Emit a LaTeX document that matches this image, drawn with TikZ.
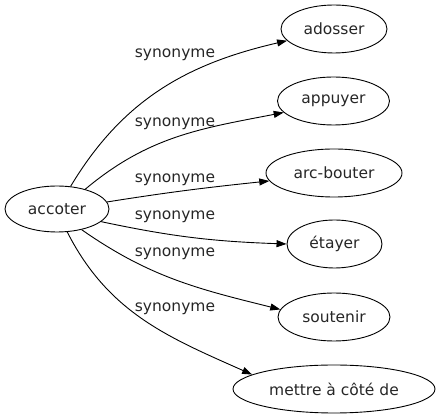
\documentclass[tikz,border=0pt]{standalone}
\usepackage{fontspec}
\setmainfont{DejaVu Sans}
\usetikzlibrary{shapes.geometric,arrows.meta}
\begin{document}
\begin{tikzpicture}[x=1pt,y=-1pt,
  word/.style={ellipse,draw,line width=0.9pt,inner sep=0pt,font=\fontsize{15.5}{18}\selectfont,text=black!85},
  lab/.style={inner sep=0pt,font=\fontsize{15.5}{18}\selectfont,text=black!85},
  link/.style={line width=0.9pt,-{Triangle[length=10pt,width=7pt]}}]
\useasboundingbox (0,0) rectangle (440,419);
\node[word,minimum width=104pt,minimum height=46pt] (accoter) at (57,209) {accoter};
\node[word,minimum width=106pt,minimum height=48pt] (adosser) at (334,29) {adosser};
\node[word,minimum width=112pt,minimum height=48pt] (appuyer) at (333.5,101) {appuyer};
\node[word,minimum width=136pt,minimum height=48pt] (arcbouter) at (334,173) {arc-bouter};
\node[word,minimum width=95pt,minimum height=48pt] (etayer) at (334.5,244) {étayer};
\node[word,minimum width=112pt,minimum height=48pt] (soutenir) at (334,317) {soutenir};
\node[word,minimum width=202pt,minimum height=48pt] (mettre) at (334,389) {mettre à côté de};
\node[lab] (l1) at (175,55) {synonyme};
\node[lab] (l2) at (175,124) {synonyme};
\node[lab] (l3) at (175,180) {synonyme};
\node[lab] (l4) at (175,217) {synonyme};
\node[lab] (l5) at (175,254) {synonyme};
\node[lab] (l6) at (175,309) {synonyme};
\draw[link] (accoter.59) to[out=59,in=193] (adosser.194);
\draw[link] (accoter.35) to[out=40,in=191] (appuyer.193);
\draw[link] (accoter.8) to[out=9,in=186] (arcbouter.187);
\draw[link] (accoter.344) to[out=-12,in=178] (etayer.180);
\draw[link] (accoter.320) to[out=-35,in=166] (soutenir.172);
\draw[link] (accoter.294) to[out=-63,in=156] (mettre.170);
\end{tikzpicture}
\end{document}
